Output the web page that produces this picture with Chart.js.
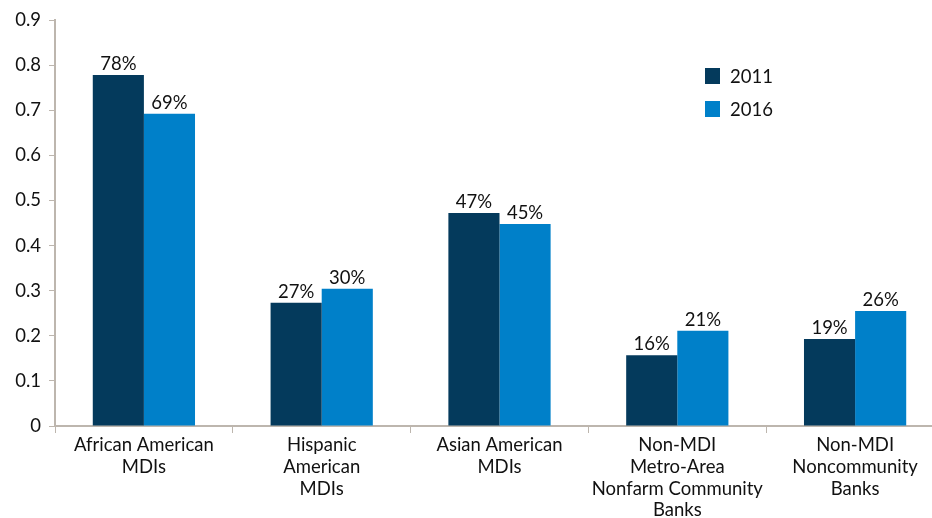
<!DOCTYPE html>
<html>
<head>
<meta charset="utf-8">
<script src="https://cdn.jsdelivr.net/npm/chart.js@4"></script>
<style>
  html, body { margin: 0; padding: 0; background: #fff; overflow: hidden; }
  #wrap { width: 944px; height: 518px; }
</style>
</head>
<body>
<div id="wrap"><canvas id="mdiChart"></canvas></div>
<script>
// categories and values
const categories = [
    ['African American', 'MDIs'],
    ['Hispanic', 'American', 'MDIs'],
    ['Asian American', 'MDIs'],
    ['Non-MDI', 'Metro-Area', 'Nonfarm Community', 'Banks'],
    ['Non-MDI', 'Noncommunity', 'Banks']
];
const seriesNames = ['2011', '2016'];
const values2011 = [0.778, 0.273, 0.472, 0.157, 0.193];
const values2016 = [0.692, 0.304, 0.448, 0.211, 0.255];
const yTicks = [0, 0.1, 0.2, 0.3, 0.4, 0.5, 0.6, 0.7, 0.8, 0.9];

const darkBlue = '#043a5c';
const lightBlue = '#0080c9';
const axisGrey = '#bdb6ae';
const fontFamily = 'Lato, "Open Sans", sans-serif';
const fontSize = 18.5;

// percent labels above each bar
const barLabels = {
    id: 'barLabels',
    afterDatasetsDraw(chart) {
        const ctx = chart.ctx;
        ctx.save();
        ctx.font = fontSize + 'px ' + fontFamily;
        ctx.fillStyle = '#111';
        ctx.textAlign = 'center';
        ctx.textBaseline = 'bottom';
        chart.data.datasets.forEach((ds, i) => {
            chart.getDatasetMeta(i).data.forEach((bar, j) => {
                ctx.fillText(Math.round(ds.data[j] * 100) + '%', bar.x, bar.y - 2);
            });
        });
        ctx.restore();
    }
};

// legend sitting inside the plot, top right
const insideLegend = {
    id: 'insideLegend',
    afterDraw(chart) {
        const ctx = chart.ctx;
        ctx.save();
        ctx.font = fontSize + 'px ' + fontFamily;
        ctx.textBaseline = 'middle';
        chart.data.datasets.forEach((ds, i) => {
            const y = 76 + i * 33;
            ctx.fillStyle = ds.backgroundColor;
            ctx.fillRect(705, y - 8, 15, 16);
            ctx.fillStyle = '#111';
            ctx.fillText(ds.label, 730, y + 1);
        });
        ctx.restore();
    }
};

new Chart(document.getElementById('mdiChart'), {
    type: 'bar',
    data: {
        labels: categories,
        datasets: [
            { label: seriesNames[0], data: values2011, backgroundColor: darkBlue },
            { label: seriesNames[1], data: values2016, backgroundColor: lightBlue }
        ]
    },
    options: {
        responsive: true,
        maintainAspectRatio: false,
        animation: false,
        layout: { padding: { top: 20, left: 0, right: 0, bottom: 0 } },
        categoryPercentage: 0.575,
        barPercentage: 1,
        scales: {
            x: {
                afterFit(axis) { axis.height = 92; },
                grid: {
                    display: true,
                    offset: true,
                    drawOnChartArea: false,
                    color: axisGrey,
                    tickLength: 7
                },
                border: { color: axisGrey, width: 2 },
                ticks: {
                    color: '#111',
                    font: { family: fontFamily, size: fontSize, lineHeight: 1.18 },
                    padding: 1,
                    maxRotation: 0,
                    autoSkip: false
                }
            },
            y: {
                min: 0,
                max: 0.9,
                afterFit(axis) { axis.width = 55; },
                afterBuildTicks(axis) {
                    axis.ticks = yTicks.map(v => ({ value: v }));
                },
                grid: {
                    display: true,
                    drawOnChartArea: false,
                    color: axisGrey,
                    tickLength: 6
                },
                border: { color: axisGrey, width: 2 },
                ticks: {
                    color: '#111',
                    font: { family: fontFamily, size: fontSize },
                    padding: 8,
                    callback: v => v === 0 ? '0' : v.toFixed(1)
                }
            }
        },
        plugins: {
            legend: { display: false },
            tooltip: { enabled: false }
        }
    },
    plugins: [barLabels, insideLegend]
});
</script>
</body>
</html>
